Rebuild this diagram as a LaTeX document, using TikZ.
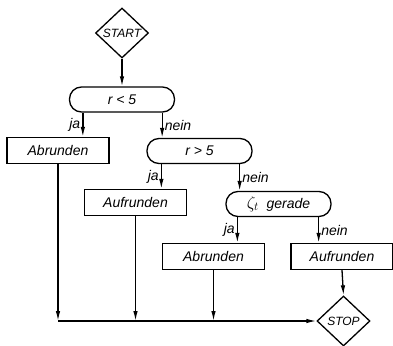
\documentclass[tikz,border=0pt]{standalone}
\usepackage{fontspec}
\usepackage{amsmath}
\setsansfont{Liberation Sans}
\usetikzlibrary{shapes.geometric,arrows.meta}

\tikzset{
    every node/.style={font=\sffamily\itshape\fontsize{14}{16}\selectfont},
    test/.style={rectangle,draw,rounded corners=12pt,minimum width=105pt,minimum height=25pt},
    task/.style={rectangle,draw,minimum width=102pt,minimum height=26pt},
    terminal/.style={diamond,draw,inner sep=0pt,minimum width=53pt,minimum height=50pt,
                     font=\sffamily\itshape\fontsize{12}{14}\selectfont},
    yes/.style={left,inner sep=2pt},
    no/.style={right,inner sep=2pt},
}

\begin{document}
\begin{tikzpicture}[x=1pt,y=-1pt,line width=1.3pt,>={Latex[length=10pt,width=4.5pt]}]
    \useasboundingbox (0,0) rectangle (393,345);

    % start, tests and rounding steps
    \node[terminal] (start) at (122,33) {START};
    \node[test] (lt5) at (122,99.5) {r < 5};
    \node[task] (abr1) at (58,150.5) {Abrunden};
    \node[test] (gt5) at (199.5,151) {r > 5};
    \node[task] (auf1) at (135.5,202.5) {Aufrunden};
    \node[test] (even) at (278.5,204) {{\fontsize{17}{17}\selectfont$\zeta_t$}\ \ gerade};
    \node[task] (abr2) at (213.5,256.5) {Abrunden};
    \node[task] (auf2) at (342,256.5) {Aufrunden};
    \node[terminal] (stop) at (343.5,321) {STOP};

    \draw[->] (start) -- (lt5);

    % branches: ja on the left, nein on the right
    \draw[->] ([xshift=14pt]lt5.south west) -- node[yes] {ja}
        ([xshift=14pt]lt5.south west |- abr1.north);
    \draw[->] ([xshift=-13pt]lt5.south east) -- node[no] {nein}
        ([xshift=-13pt]lt5.south east |- gt5.north);
    \draw[->] ([xshift=15pt]gt5.south west) -- node[yes] {ja}
        ([xshift=15pt]gt5.south west |- auf1.north);
    \draw[->] ([xshift=-13pt]gt5.south east) -- node[no] {nein}
        ([xshift=-13pt]gt5.south east |- even.north);
    \draw[->] ([xshift=12pt]even.south west) -- node[yes] {ja}
        ([xshift=12pt]even.south west |- abr2.north);
    \draw[->] ([xshift=-13pt]even.south east) -- node[no] {nein}
        ([xshift=-13pt]even.south east |- auf2.north);

    % everything runs into STOP
    \draw[->] (abr1.south) -- (abr1.south |- stop.west);
    \draw[->] (auf1.south) -- (auf1.south |- stop.west);
    \draw[->] (abr2.south) -- (abr2.south |- stop.west);
    \draw[->] (abr1.south |- stop.west) -- (stop.west);
    \draw[->] (auf2.south) -- (stop.north);
\end{tikzpicture}
\end{document}
